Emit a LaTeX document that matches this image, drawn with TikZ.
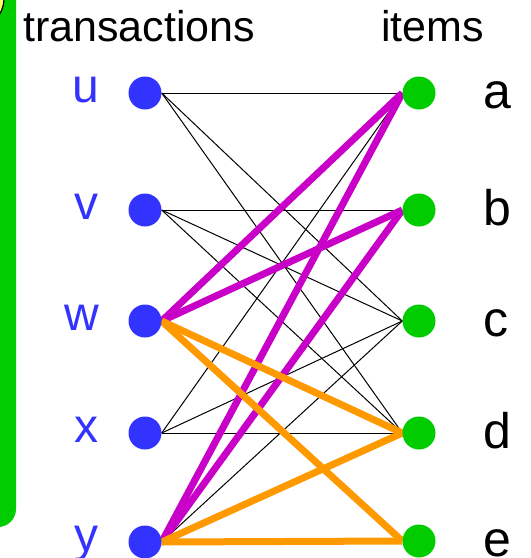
\documentclass[tikz,border=0pt]{standalone}
\usepackage{fontspec}
\setmainfont{Liberation Sans}
\usepackage{xcolor}
\usetikzlibrary{backgrounds}

\definecolor{tblue}{RGB}{51,51,255}
\definecolor{igreen}{RGB}{0,204,0}
\definecolor{hotpurple}{RGB}{200,0,200}
\definecolor{warmorange}{RGB}{255,153,0}
\definecolor{blobyellow}{RGB}{255,255,102}

\begin{document}
\begin{tikzpicture}[x=1pt,y=-1pt,
  tnode/.style={circle,fill=tblue,minimum size=33pt,inner sep=0pt},
  inode/.style={circle,fill=igreen,minimum size=33pt,inner sep=0pt},
  tlabel/.style={anchor=base east,inner sep=0pt,text=tblue,font=\fontsize{48}{48}\selectfont},
  ilabel/.style={anchor=base west,inner sep=0pt,font=\fontsize{50}{50}\selectfont},
  head/.style={anchor=base west,inner sep=0pt,font=\fontsize{43}{43}\selectfont},
  link/.style={line width=1pt},
  hot/.style={line width=7pt,draw=hotpurple},
  warm/.style={line width=7pt,draw=warmorange}]
\useasboundingbox (0,0) rectangle (531,558);

% column heads
\node[head] (thead) at (23,41) {transactions};
\node[head] (ihead) at (381,41) {items};

% transactions on the left, items on the right
\foreach \n/\y in {u/93,v/210,w/321,x/433,y/542}{
  \node[tnode] (t\n) at (145,\y) {};
  \node[tlabel] (l\n) at (99,\y+9) {\n};
}
\foreach \n/\y in {a/93,b/210,c/321,d/433,e/541}{
  \node[inode] (i\n) at (419,\y) {};
  \node[ilabel] (l\n) at (483,\y+15) {\n};
}

\begin{scope}[on background layer]
  % panel edge and blob at the border
  \fill[igreen,rounded corners=18pt] (-40,-40) rectangle (16,527);
  \draw[line width=1.2pt,fill=blobyellow] (-28,-2) circle (32);
  % plain edges
  \foreach \s/\t in {u/a,u/c,u/d,v/b,v/c,v/d,x/a,x/c,x/d,y/c}
    \draw[link] (t\s.east) -- (i\t.west);
  % highlighted edges
  \foreach \s/\t in {w/a,w/b,y/a,y/b}
    \draw[hot] (t\s.east) -- (i\t.west);
  \foreach \s/\t in {w/d,w/e,y/d,y/e}
    \draw[warm] (t\s.east) -- (i\t.west);
\end{scope}
\end{tikzpicture}
\end{document}
